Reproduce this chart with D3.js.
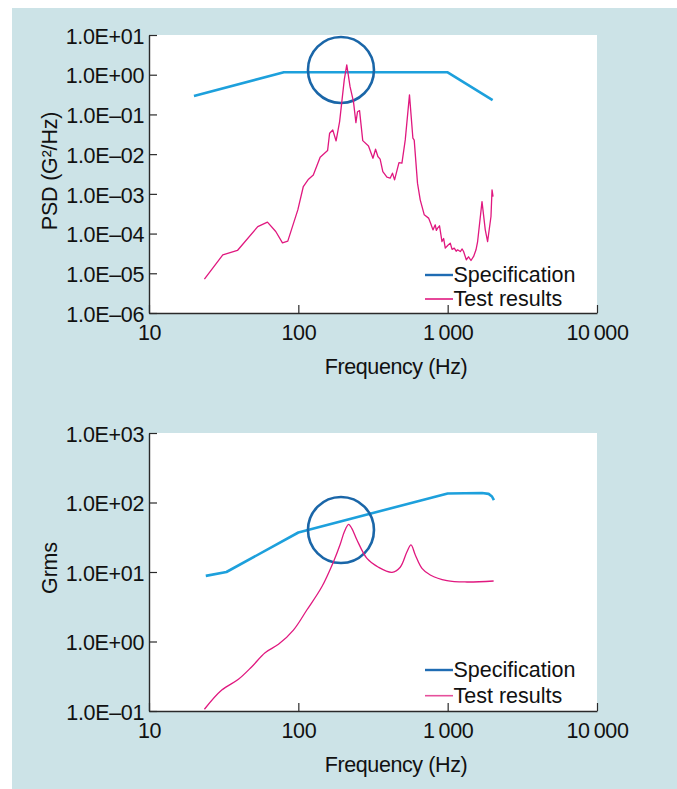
<!DOCTYPE html>
<html><head><meta charset="utf-8">
<script src="https://cdn.jsdelivr.net/npm/d3@7"></script>
<style>
body{margin:0;background:#fff}
svg{display:block}
text{font-family:"Liberation Sans",Arial,Helvetica,sans-serif;fill:#111}
</style>
</head><body>
<svg id="c" width="677" height="789"></svg>
<script>
// ---- data ----
const freqTicks = [10, 100, 1000, 10000];
const freqTickLabels = ["10", "100", "1\u2009000", "10\u2009000"];

const psdTicks = [1e-6, 1e-5, 1e-4, 1e-3, 1e-2, 1e-1, 1, 10];
const psdTickLabels = ["1.0E\u201306","1.0E\u201305","1.0E\u201304","1.0E\u201303","1.0E\u201302","1.0E\u201301","1.0E+00","1.0E+01"];

const grmsTicks = [0.1, 1, 10, 100, 1000];
const grmsTickLabels = ["1.0E\u201301","1.0E+00","1.0E+01","1.0E+02","1.0E+03"];

const seriesNames = ["Specification", "Test results"];

// PSD specification [Hz, G²/Hz]
const psdSpec = [[20,0.29],[80,1.15],[1000,1.15],[2000,0.23]];
// PSD test results [Hz, G²/Hz]
const psdTest = [
 [23.5,7.1e-6],[31.2,2.9e-5],[39.1,3.75e-5],[53.5,1.5e-4],[62.1,1.94e-4],[70.6,1.13e-4],
 [78.3,5.85e-5],[85,6.45e-5],[99.2,3.95e-4],[108,1.53e-3],[117,2.34e-3],[126,3.0e-3],
 [140,8.4e-3],[157,1.23e-2],[162,3.37e-2],[170,4.07e-2],[179,2.15e-2],[189,6.6e-2],
 [203,0.74],[211,1.76],[222,0.50],[234,0.21],[243,0.062],[249,0.117],[257,0.125],
 [270,0.0219],[295,0.0161],[316,0.0079],[329,0.0133],[341,0.0087],[353,0.0075],
 [368,0.00364],[392,0.00263],[412,0.00248],[427,0.00332],[441,0.00225],[472,0.00612],
 [494,0.00592],[520,0.0228],[555,0.31],[585,0.0252],[597,0.0225],[628,0.00186],
 [655,7.06e-4],[697,2.96e-4],[745,2.45e-4],[770,1.8e-4],[797,1.24e-4],[826,1.66e-4],[840,1.2e-4],
 [856,1.37e-4],[882,1.57e-4],[916,6.3e-5],[940,7.5e-5],[964,4.3e-5],[1000,5.0e-5],[1041,5.75e-5],
 [1070,4.0e-5],[1107,4.3e-5],[1140,3.6e-5],[1165,3.9e-5],[1215,3.53e-5],[1250,4.1e-5],[1278,3.53e-5],
 [1333,2.19e-5],[1380,2.6e-5],[1433,2.1e-5],[1492,2.65e-5],[1548,3.9e-5],[1587,6.3e-5],
 [1698,6.4e-4],[1786,1.24e-4],[1851,6.3e-5],[1950,2.69e-4],[1982,1.26e-3],[2013,8.55e-4]
];

// Grms specification [Hz, Grms]
const grmsSpec = [[24,8.8],[33,10],[100,37],[1000,135],[1700,137],[1880,133],[1980,122],[2040,108]];
// Grms test results [Hz, Grms]
const grmsTest = [
 [23.5,0.106],[30.7,0.2],[39.7,0.286],[48.8,0.434],[59.9,0.69],[73.6,0.91],[92.7,1.46],
 [114,2.84],[143.7,6.14],[172,14.1],[191,25.3],[203,37.6],[217,48.6],[228,42.5],[247,28.9],
 [288,15.7],[344,11.7],[424,9.9],[481,11.7],[534,19.6],[568,24.5],[607,17.6],[673,11.3],
 [765,9.05],[989,7.5],[1346,7.18],[2031,7.42]
];

// highlight circles (centre in data units)
const psdCircle = [193, 1.32];
const grmsCircle = [193, 40.2];

// ---- drawing ----
const svg = d3.select("#c");
const C_BG = "#cce3e7", C_SPEC = "#1da0dc", C_CIRCLE = "#1a66a8",
      C_TEST = "#e0187f", C_LEG_SPEC = "#1f6cb3", C_AXIS = "#2a2a2a";
const FS = 21.5;

svg.append("rect").attr("x",12).attr("y",8).attr("width",665).attr("height",781).attr("fill",C_BG);

function drawChart(o){
  const x = d3.scaleLog().domain([10,10000]).range([149,597]);
  const y = d3.scaleLog().domain(o.yDomain).range([o.bottom,o.top]);
  const g = svg.append("g");
  g.append("rect").attr("x",149).attr("y",o.top).attr("width",597-149).attr("height",o.bottom-o.top).attr("fill","#fff");

  const line = d3.line().x(d=>x(d[0])).y(d=>y(d[1]));
  g.append("path").datum(o.spec).attr("d",line.curve(d3.curveLinear))
   .attr("fill","none").attr("stroke",C_SPEC).attr("stroke-width",2.6).attr("stroke-linejoin","round");
  g.append("circle").attr("cx",x(o.circle[0])).attr("cy",y(o.circle[1])).attr("r",33)
   .attr("fill","none").attr("stroke",C_CIRCLE).attr("stroke-width",2.6);
  const tline = d3.line().x(d=>x(d[0])).y(d=>y(d[1])).curve(o.smooth ? d3.curveCatmullRom.alpha(0.5) : d3.curveLinear);
  g.append("path").datum(o.test).attr("d",tline)
   .attr("fill","none").attr("stroke",C_TEST).attr("stroke-width",1.3).attr("stroke-linejoin","round");

  // axes
  const ya = d3.axisLeft(y).tickValues(o.yTicks).tickFormat((d,i)=>o.yLabels[i])
    .tickSizeInner(-8).tickSizeOuter(0).tickPadding(5);
  const yg = g.append("g").attr("transform","translate(149,0)").call(ya);
  const xa = d3.axisBottom(x).tickValues(freqTicks).tickFormat((d,i)=>freqTickLabels[i])
    .tickSizeInner(-8).tickSizeOuter(0).tickPadding(11.8);
  const xg = g.append("g").attr("transform",`translate(0,${o.bottom})`).call(xa);
  [yg,xg].forEach(a=>{
    a.select(".domain").attr("stroke",C_AXIS).attr("stroke-width",1.4);
    a.selectAll(".tick line").attr("stroke",C_AXIS).attr("stroke-width",1.2);
    a.selectAll("text").attr("font-size",FS).attr("font-family",null).attr("fill","#111")
     .attr("letter-spacing","-0.35");
  });
  yg.selectAll("text").attr("dy","0.38em");

  // titles
  g.append("text").attr("x",396).attr("y",o.bottom+61).attr("text-anchor","middle")
   .attr("font-size",FS).attr("letter-spacing","-0.4").text("Frequency (Hz)");
  g.append("text").attr("transform",`translate(57,${o.yTitleY}) rotate(-90)`).attr("text-anchor","middle")
   .attr("font-size",FS).attr("letter-spacing","-0.2").text(o.yTitle);

  // legend
  const lg = g.append("g");
  const ly = [o.bottom+o.leg[0], o.bottom+o.leg[1]];
  const lc = [C_LEG_SPEC, o.legTestColor];
  seriesNames.forEach((n,i)=>{
    lg.append("line").attr("x1",425).attr("x2",453).attr("y1",ly[i]).attr("y2",ly[i])
      .attr("stroke",lc[i]).attr("stroke-width",i===0?2.4:1.6);
    lg.append("text").attr("x",453.5).attr("y",ly[i]+7).attr("font-size",FS).text(n);
  });
}

drawChart({top:35,bottom:313,yDomain:[1e-6,10],yTicks:psdTicks,yLabels:psdTickLabels,
  spec:psdSpec,test:psdTest,circle:psdCircle,smooth:false,yTitle:"PSD (G\u00b2/Hz)",yTitleY:171,
  leg:[-38,-14],legTestColor:C_TEST});
drawChart({top:433,bottom:711,yDomain:[0.1,1000],yTicks:grmsTicks,yLabels:grmsTickLabels,
  spec:grmsSpec,test:grmsTest,circle:grmsCircle,smooth:true,yTitle:"Grms",yTitleY:568,
  leg:[-41,-15.3],legTestColor:"#e6509c"});
</script>
</body></html>
